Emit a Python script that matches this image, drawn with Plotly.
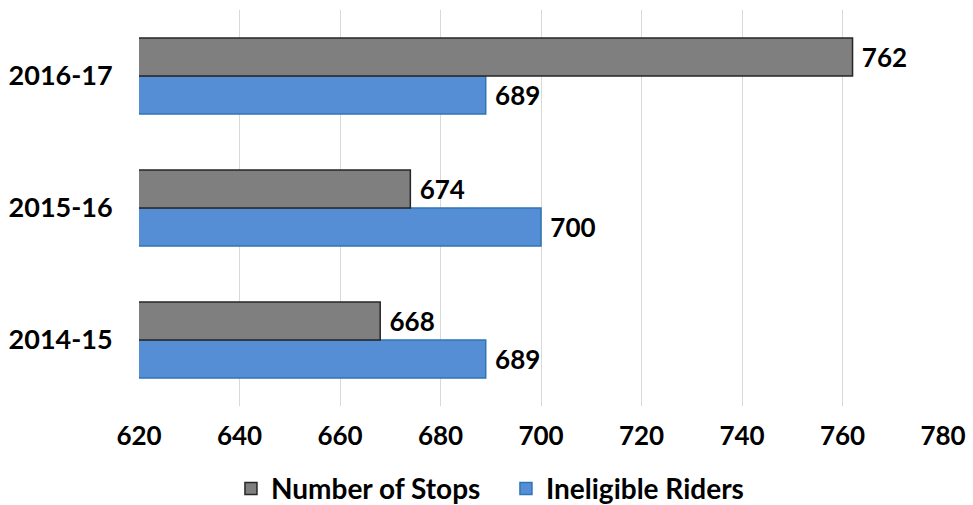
import plotly.graph_objects as go

categories = ["2014-15", "2015-16", "2016-17"]
stops = [668, 674, 762]
ineligible = [689, 700, 689]
x_ticks = [620, 640, 660, 680, 700, 720, 740, 760, 780]

FONT = "Lato"
FS = 26
fig = go.Figure()
fig.add_trace(go.Bar(
    y=categories, x=ineligible, orientation="h", name="Ineligible Riders",
    marker=dict(color="#558ED5", line=dict(color="#2E75B6", width=1.5)),
    text=[str(v) for v in ineligible], texttemplate=" %{text}", textposition="outside",
    textfont=dict(family=FONT, size=FS, color="black", weight="bold"),
    cliponaxis=False,
))
fig.add_trace(go.Bar(
    y=categories, x=stops, orientation="h", name="Number of Stops",
    marker=dict(color="#7F7F7F", line=dict(color="#262626", width=1.5)),
    text=[str(v) for v in stops], texttemplate=" %{text}", textposition="outside",
    textfont=dict(family=FONT, size=FS, color="black", weight="bold"),
    cliponaxis=False,
))
fig.update_layout(
    width=973, height=505,
    margin=dict(l=139, r=30, t=10, b=99, autoexpand=False),
    barmode="group", bargap=0.424, bargroupgap=0,
    plot_bgcolor="white", paper_bgcolor="white",
    font=dict(family=FONT, size=FS, color="black", weight="bold"),
    showlegend=True,
    legend=dict(orientation="h", x=0.52, xref="container", xanchor="center",
                y=0.032, yref="container", yanchor="middle",
                traceorder="reversed", font=dict(family=FONT, size=28, color="black", weight="bold"),
                itemwidth=30, tracegroupgap=0, entrywidth=230, entrywidthmode="pixels"),
    xaxis=dict(range=[620, 780], tickvals=x_ticks, showgrid=True, gridcolor="#D9D9D9",
               gridwidth=1, zeroline=False, showline=False, ticks="outside", ticklen=7,
               tickcolor="rgba(0,0,0,0)", automargin=False,
               tickfont=dict(family=FONT, size=FS, weight="bold")),
    yaxis=dict(showgrid=False, showline=False, ticks="outside", ticklen=20,
               tickcolor="rgba(0,0,0,0)", automargin=False,
               tickfont=dict(family=FONT, size=27, weight="bold")),
)
fig.write_html("out.html", config={"displayModeBar": False},
               post_script="document.body.style.margin='0';document.body.style.padding='0';")
